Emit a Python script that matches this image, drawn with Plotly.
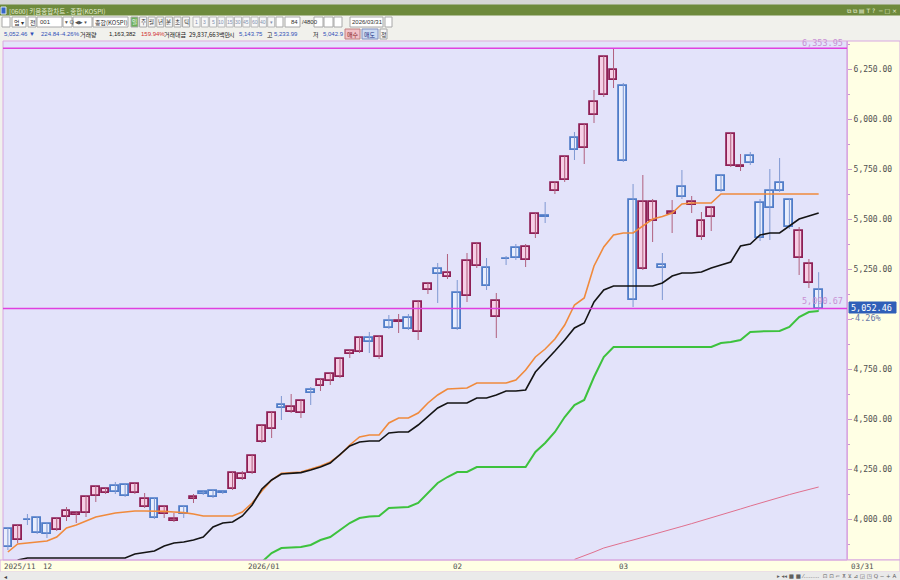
import plotly.graph_objects as go

# trading days shown (84 bars)
dates = ["2025-11-25", "2025-11-26", "2025-11-27", "2025-11-28",
         "2025-12-01", "2025-12-02", "2025-12-03", "2025-12-04", "2025-12-05",
         "2025-12-08", "2025-12-09", "2025-12-10", "2025-12-11", "2025-12-12",
         "2025-12-15", "2025-12-16", "2025-12-17", "2025-12-18", "2025-12-19",
         "2025-12-22", "2025-12-23", "2025-12-24", "2025-12-26", "2025-12-29", "2025-12-30",
         "2026-01-02", "2026-01-05", "2026-01-06", "2026-01-07", "2026-01-08", "2026-01-09",
         "2026-01-12", "2026-01-13", "2026-01-14", "2026-01-15", "2026-01-16",
         "2026-01-19", "2026-01-20", "2026-01-21", "2026-01-22", "2026-01-23",
         "2026-01-26", "2026-01-27", "2026-01-28", "2026-01-29", "2026-01-30",
         "2026-02-02", "2026-02-03", "2026-02-04", "2026-02-05", "2026-02-06",
         "2026-02-09", "2026-02-10", "2026-02-11", "2026-02-12", "2026-02-13",
         "2026-02-19", "2026-02-20", "2026-02-23", "2026-02-24", "2026-02-25",
         "2026-02-26", "2026-02-27",
         "2026-03-03", "2026-03-04", "2026-03-05", "2026-03-06", "2026-03-09",
         "2026-03-10", "2026-03-11", "2026-03-12", "2026-03-13", "2026-03-16",
         "2026-03-17", "2026-03-18", "2026-03-19", "2026-03-20", "2026-03-23",
         "2026-03-24", "2026-03-25", "2026-03-26", "2026-03-27", "2026-03-30", "2026-03-31"]

opens = [3950, 3895, 3997, 4005, 3975, 3945, 4010, 4020, 4030, 4115,
         4130, 4165, 4170, 4130, 4060, 4100, 4025, 3990, 4060, 4100,
         4135, 4140, 4135, 4150, 4200, 4230, 4385, 4450, 4570, 4535,
         4530, 4645, 4665, 4690, 4710, 4825, 4835, 4905, 4810, 4990,
         4985, 5005, 4935, 5145, 5250, 5210, 5130, 5115, 5265, 5255,
         5010, 5300, 5355, 5295, 5425, 5515, 5640, 5695, 5905, 5855,
         6020, 6120, 6195, 6165, 5595, 5250, 5490, 5270, 5525, 5660,
         5570, 5410, 5510, 5715, 5765, 5760, 5815, 5580, 5640, 5680,
         5595, 5305, 5180, 5143.75]
highs = [3955, 3970, 4025, 4015, 3980, 4005, 4060, 4035, 4115, 4165,
         4155, 4185, 4175, 4180, 4130, 4105, 4065, 4030, 4065, 4125,
         4140, 4145, 4140, 4235, 4240, 4320, 4470, 4535, 4615, 4625,
         4595, 4660, 4700, 4730, 4805, 4845, 4915, 4935, 4915, 5020,
         5025, 5025, 5090, 5180, 5280, 5325, 5195, 5330, 5380, 5305,
         5130, 5315, 5375, 5375, 5530, 5585, 5690, 5815, 5935, 5975,
         6145, 6315, 6353.95, 6180, 5675, 5720, 5600, 5330, 5595, 5745,
         5615, 5535, 5560, 5720, 5930, 5825, 5835, 5600, 5750, 5805,
         5605, 5460, 5300, 5233.99]
lows = [3845, 3880, 3970, 3925, 3905, 3940, 3990, 3980, 4010, 4085,
        4125, 4125, 4110, 4125, 4055, 4000, 4005, 3985, 4005, 4080,
        4120, 4105, 4125, 4145, 4195, 4225, 4380, 4405, 4495, 4530,
        4505, 4570, 4640, 4670, 4705, 4805, 4830, 4830, 4800, 4950,
        4930, 4945, 4895, 5125, 5080, 5200, 4945, 5085, 5255, 5145,
        4905, 5270, 5295, 5260, 5405, 5480, 5625, 5685, 5795, 5775,
        5980, 6110, 6155, 5785, 5060, 5245, 5385, 5095, 5430, 5600,
        5530, 5395, 5440, 5635, 5760, 5740, 5770, 5390, 5395, 5635,
        5450, 5220, 5155, 5042.90]
closes = [3860, 3965, 3993, 3930, 3925, 4000, 4040, 4030, 4110, 4160,
          4150, 4135, 4115, 4175, 4100, 4005, 4060, 4000, 4025, 4110,
          4125, 4110, 4130, 4230, 4225, 4315, 4465, 4530, 4555, 4560,
          4590, 4630, 4695, 4725, 4800, 4840, 4905, 4885, 4910, 4955,
          4990, 4950, 5085, 5175, 5225, 5230, 4950, 5290, 5375, 5165,
          5090, 5298, 5305, 5360, 5525, 5510, 5680, 5810, 5845, 5970,
          6085, 6310, 6245, 5790, 5095, 5585, 5585, 5255, 5535, 5610,
          5585, 5490, 5555, 5640, 5925, 5765, 5780, 5405, 5555, 5640,
          5460, 5440, 5277.30, 5052.46]

# indicator lines (None = not drawn)
orange_line = [3835, 3875, 3880, 3885, 3890, 3910, 3955, 3970, 3990, 4010,
               4020, 4030, 4035, 4040, 4040, 4040, 4038, 4035, 4032, 4025,
               4015, 4015, 4015, 4015, 4035, 4080, 4140, 4195, 4228, 4232,
               4235, 4250, 4265, 4285, 4320, 4370, 4410, 4420, 4420, 4480,
               4505, 4505, 4530, 4580, 4620, 4650, 4652, 4655, 4680, 4680,
               4680, 4680, 4695, 4745, 4810, 4850, 4900, 4970, 5070, 5105,
               5265, 5360, 5420, 5430, 5430, 5465, 5500, 5512, 5530, 5575,
               5580, 5580, 5580, 5625, 5625, 5625, 5625, 5625, 5625, 5625,
               5625, 5625, 5625, 5625]
black_line = [None, 3795, 3805, 3805, 3805, 3805, 3805, 3805, 3805, 3805,
              3805, 3805, 3805, 3825, 3832, 3840, 3865, 3880, 3885, 3895,
              3910, 3960, 3980, 3985, 4015, 4070, 4150, 4195, 4225, 4230,
              4232, 4245, 4260, 4280, 4325, 4365, 4385, 4390, 4390, 4430,
              4435, 4435, 4470, 4515, 4555, 4580, 4580, 4580, 4605, 4605,
              4620, 4640, 4640, 4645, 4735, 4785, 4840, 4895, 4955, 4980,
              5085, 5145, 5165, 5165, 5165, 5165, 5165, 5180, 5215, 5230,
              5230, 5235, 5255, 5270, 5285, 5365, 5375, 5420, 5430, 5430,
              5465, 5500, 5515, 5530]
green_line = [None] * 26 + [3785, 3830, 3855, 3858,
              3860, 3870, 3895, 3910, 3945, 3980, 4005, 4012, 4015, 4055,
              4058, 4060, 4080, 4130, 4180, 4210, 4235, 4235, 4260, 4260,
              4260, 4260, 4260, 4260, 4335, 4380, 4435, 4510, 4570, 4595,
              4710, 4810, 4860, 4860, 4860, 4860, 4860, 4860, 4860, 4860,
              4860, 4860, 4860, 4880, 4885, 4895, 4935, 4938, 4940, 4940,
              4960, 5010, 5035, 5040]
red_line = [None] * 58 + [3798, 3815,
            3835, 3855, 3870, 3882, 3895, 3908, 3922, 3935, 3950, 3963,
            3977, 3991, 4005, 4020, 4035, 4050, 4065, 4080, 4095, 4110,
            4122, 4135, 4148, 4160]

marker_value = 5090.67
y_ticks = [4000, 4250, 4500, 4750, 5000, 5250, 5500, 5750, 6000, 6250]
hidden_tick = 5000  # covered by the current-price box in the original

# pixel -> paper helpers
W, H = 900, 580
ML, MR, MT, MB = 3, 53, 41, 20
def px(x):
    return (x - ML) / (W - ML - MR)
def py(y):
    return (H - MB - y) / (H - MT - MB)

idx = list(range(len(dates)))
up = [c >= o for o, c in zip(opens, closes)]

fig = go.Figure()

# wicks
for flag, col in [(True, "#B0607E"), (False, "#7F98D2")]:
    wx, wy = [], []
    for i in idx:
        if up[i] == flag:
            wx += [i, i, None]
            wy += [lows[i], highs[i], None]
    fig.add_trace(go.Scatter(x=wx, y=wy, mode="lines", line=dict(color=col, width=1),
                             hoverinfo="skip"))

# bodies
fig.add_trace(go.Bar(
    x=idx,
    base=[min(o, c) for o, c in zip(opens, closes)],
    y=[max(abs(c - o), 1) for o, c in zip(opens, closes)],
    width=0.8,
    marker=dict(color=["#F6CFE6" if u else "#E9EEFD" for u in up],
                line=dict(color=["#8E1F55" if u else "#4F7CC8" for u in up], width=1.8)),
    hovertext=dates, hoverinfo="text"))

fig.add_trace(go.Scatter(x=idx, y=red_line, mode="lines", line=dict(color="#E0708E", width=1)))
fig.add_trace(go.Scatter(x=idx, y=green_line, mode="lines", line=dict(color="#3DC23D", width=2)))
fig.add_trace(go.Scatter(x=idx, y=orange_line, mode="lines", line=dict(color="#F08A3C", width=1.6)))
fig.add_trace(go.Scatter(x=idx, y=black_line, mode="lines", line=dict(color="#141414", width=1.6)))

shapes = []
def rect(x0, y0, x1, y1, fill, line=None, layer="below"):
    shapes.append(dict(type="rect", xref="paper", yref="paper",
                       x0=px(x0), x1=px(x1), y0=py(y1), y1=py(y0),
                       fillcolor=fill, line=dict(color=line or fill, width=1), layer=layer))

# window chrome
rect(0, 0, 900, 5, "#D6D6D6")
rect(0, 5, 900, 16, "#6E8A3C")
rect(0, 16, 900, 41, "#F1F1EC")
rect(1, 7, 6, 14, "#3566C8", "#DDE6F5")
rect(847, 41, 900, 560, "#FFFFE4", "#D8A8E0")
rect(0, 560, 900, 572, "#FFFFE4", "#D8A8E0")
rect(0, 572, 900, 580, "#EAEAEA")
rect(849, 302, 896, 313, "#2F5FB8", layer="above")
# toolbar boxes
for x0, x1 in [(2, 10), (12, 26), (28, 36), (37, 62), (63, 72), (73, 92), (93, 128),
               (276, 283), (285, 300), (314, 323), (324, 333), (334, 342), (350, 383), (385, 392)]:
    rect(x0, 17, x1, 27, "#FFFFFF", "#A8A8A8")
for k in range(7):
    rect(131 + k * 8.6, 17, 138 + k * 8.6, 27, "#6DB05A" if k == 0 else "#F7F7F7", "#A8A8A8")
for k in range(10):
    rect(193 + k * 8.3, 17, 200 + k * 8.3, 27, "#F7F7F7", "#B8B8B8")
rect(345, 29, 360, 39, "#F3C2C8", "#C08080")
rect(362, 29, 378, 39, "#CCDAF2", "#8090C0")
rect(380, 29, 387, 39, "#F7F7F7", "#A8A8A8")

# plot border and price lines
shapes.append(dict(type="rect", xref="paper", yref="paper", x0=0, x1=1, y0=0, y1=1,
                   line=dict(color="#D8A8E0", width=1), layer="above"))
shapes.append(dict(type="line", xref="paper", yref="y", x0=0, x1=1,
                   y0=closes[-1], y1=closes[-1], line=dict(color="#E040E0", width=1.5),
                   layer="above"))
shapes.append(dict(type="line", xref="paper", yref="y", x0=0, x1=1,
                   y0=max(highs), y1=max(highs), line=dict(color="#E040E0", width=1.5),
                   layer="above"))

ann = []
def text(x, y, s, color="#202020", size=6.5, font="Noto Sans CJK KR", anchor="left"):
    ann.append(dict(xref="paper", yref="paper", x=px(x), y=py(y), text=s, showarrow=False,
                    xanchor=anchor, yanchor="middle", borderpad=0,
                    font=dict(family=font, size=size, color=color)))

text(8, 10.5, "[0600] 키움종합차트 - 종합(KOSPI)", "#E4EDD2", 6.5)
text(898, 10.5, "⧉ ⧉ ▤ T ?  ─ □ ×", "#E4EDD2", 6, "DejaVu Sans", anchor="right")
text(13, 22, "업 ▾", "#303030", 6)
text(29, 22, "전", "#303030", 6)
text(39, 22, "001", "#303030", 6, "Liberation Sans")
text(64, 22, "▾ Q", "#505050", 5.5, "DejaVu Sans")
text(74, 22, "◀▶ ▾", "#505050", 5, "DejaVu Sans")
text(94, 22, "종합(KOSPI)", "#303030", 6)
for k, s in enumerate(["일", "주", "월", "년", "분", "초", "틱"]):
    text(134.5 + k * 8.6, 22, s, "#FFFFFF" if k == 0 else "#303030", 5.5, anchor="center")
for k, s in enumerate(["1", "3", "5", "10", "15", "30", "45", "60", "40", "▾"]):
    text(196.5 + k * 8.3, 22, s, "#8090B0", 5, "Liberation Sans", anchor="center")
text(299, 22, "84", "#303030", 6, "Liberation Sans", anchor="right")
text(301, 22, "/4800", "#303030", 6, "Liberation Sans")
text(351, 22, "2026/03/31", "#303030", 6, "Liberation Sans")

chg = closes[-1] - closes[-2]
pct = chg / closes[-2] * 100
fnum = "Liberation Sans"
text(3, 34, f"{closes[-1]:,.2f} ▼", "#3050B8", 6, fnum)
text(40, 34, f"{abs(chg):,.2f}", "#3050B8", 6, fnum)
text(59, 34, f"{pct:.2f}%", "#3050B8", 6, fnum)
text(79, 34, "거래량", "#202020", 6)
text(137, 34, "1,163,382", "#202020", 6, fnum, anchor="right")
text(140, 34, "159.94%", "#D03030", 6, fnum)
text(163, 34, "거래대금", "#202020", 6)
text(188, 34, "29,837,663백만", "#202020", 6)
text(228, 34, "시", "#202020", 6)
text(238, 34, f"{opens[-1]:,.2f}", "#3050B8", 6, fnum)
text(266, 34, "고", "#202020", 6)
text(273, 34, f"{highs[-1]:,.2f}", "#3050B8", 6, fnum)
text(312, 34, "저", "#202020", 6)
text(322, 34, f"{lows[-1]:,.1f}", "#3050B8", 6, fnum)
text(352.5, 34, "매수", "#802020", 6, anchor="center")
text(370, 34, "매도", "#203080", 6, anchor="center")
text(383.5, 34, "정", "#303030", 6, anchor="center")

# price labels
ann.append(dict(xref="paper", yref="y", x=px(845), y=max(highs), text=f"{max(highs):,.2f}",
                showarrow=False, xanchor="right", yanchor="bottom", yshift=-2,
                font=dict(family="DejaVu Sans Mono", size=8.5, color="#C890D4")))
ann.append(dict(xref="paper", yref="y", x=px(845), y=marker_value, text=f"{marker_value:,.2f}",
                showarrow=False, xanchor="right", yanchor="middle",
                font=dict(family="DejaVu Sans Mono", size=8.5, color="#C890D4")))
text(850, 307.5, f"{closes[-1]:,.2f}", "#FFFFFF", 8.5, "DejaVu Sans Mono")
text(849, 318, f"{pct:.2f}%", "#6878A8", 8.5, "DejaVu Sans Mono")

# month labels on the date strip
prev = None
for i, d in enumerate(dates):
    ym = d[:7]
    if ym != prev:
        if prev is None or ym[:4] != prev[:4]:
            lab = ym.replace("-", "/")
        else:
            lab = ym[5:7]
        ann.append(dict(xref="x", yref="paper", x=i - 0.5, y=py(566.5), text=lab,
                        showarrow=False, xanchor="left", yanchor="middle", borderpad=0,
                        font=dict(family="DejaVu Sans Mono", size=7.5, color="#505050")))
    prev = ym
text(850, 566.5, dates[-1][5:].replace("-", "/"), "#505050", 7.5, "DejaVu Sans Mono")
text(3, 576, "◂", "#404040", 6, "DejaVu Sans")
text(897, 576, "▸ ◂◂ ■ ■ ⁄.........  ⊡ ⊡ ⌐ ⊼ ⊻ ⊿ ◲ ◳ Q − + A", "#606060", 5.5,
     "DejaVu Sans", anchor="right")

fig.update_layout(
    width=W, height=H,
    margin=dict(l=ML, r=MR, t=MT, b=MB),
    paper_bgcolor="#F1F1EC",
    plot_bgcolor="#E3E3FA",
    showlegend=False,
    bargap=0,
    shapes=shapes,
    annotations=ann,
    hovermode="closest",
    xaxis=dict(range=[-0.5, 85.9], showgrid=False, zeroline=False,
               showticklabels=False, ticks="", fixedrange=True),
    yaxis=dict(range=[3795, 6390], side="right", showgrid=False, zeroline=False,
               tickvals=y_ticks,
               ticktext=["" if v == hidden_tick else f"{v:,.2f}" for v in y_ticks],
               ticks="outside", ticklen=4, tickcolor="#C898D0",
               tickfont=dict(family="DejaVu Sans Mono", size=8, color="#505050"),
               minor=dict(ticks="outside", ticklen=2, dtick=125, tick0=0, tickcolor="#C898D0"),
               showline=True, linecolor="#D8A8E0", fixedrange=True),
)

# the page body has a default 8px margin; drop it so the figure fills the window
fig.write_html("out.html", config={"displayModeBar": False},
               post_script="document.body.style.margin='0';document.body.style.overflow='hidden';")
